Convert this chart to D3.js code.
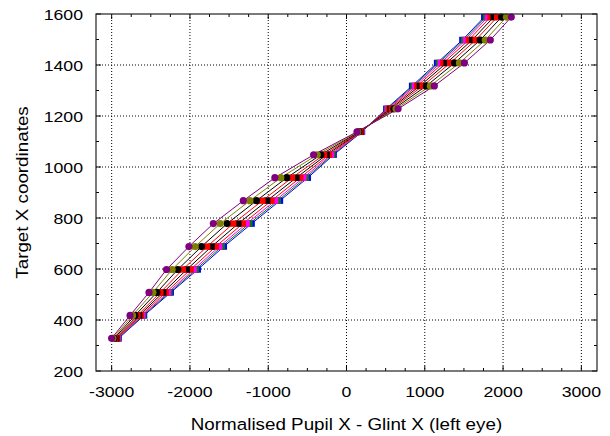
<!DOCTYPE html>
<html>
<head>
<meta charset="utf-8">
<script src="https://cdn.jsdelivr.net/npm/d3@7"></script>
<style>
  body { margin: 0; background: #fff; }
  text { font-family: "Liberation Sans", Arial, sans-serif; fill: #000; }
</style>
</head>
<body>
<svg id="chart" width="610" height="436"></svg>
<script>
// target levels (y) shared by every series
const targets = [328, 418, 508, 598, 688, 778, 868, 958, 1048, 1138, 1228, 1318, 1408, 1498, 1588];

// normalised pupil - glint x, one array per session
const purpleX  = [-3000, -2765, -2523, -2299, -2013, -1701, -1318, -915, -420, 134, 659, 1122, 1506, 1837, 2105];
const oliveX   = [-2984, -2733, -2473, -2227, -1933, -1613, -1234, -839, -374, 145, 632, 1071, 1443, 1773, 2043];
const blackAX  = [-2968, -2701, -2423, -2155, -1852, -1525, -1150, -763, -328, 157, 605, 1020, 1380, 1708, 1981];
const redAX    = [-2954, -2672, -2378, -2092, -1781, -1447, -1075, -696, -287, 167, 580, 974, 1325, 1651, 1926];
const blackBX  = [-2942, -2649, -2342, -2040, -1723, -1383, -1014, -641, -254, 176, 561, 937, 1279, 1605, 1881];
const redBX    = [-2931, -2627, -2309, -1992, -1670, -1324, -958, -591, -223, 183, 543, 903, 1237, 1562, 1839];
const magentaX = [-2923, -2609, -2281, -1952, -1625, -1276, -911, -549, -197, 190, 528, 875, 1202, 1526, 1805];
const greenX   = [-2917, -2597, -2262, -1924, -1594, -1241, -878, -519, -179, 194, 517, 855, 1178, 1501, 1781];
const blueX    = [-2911, -2586, -2245, -1900, -1567, -1212, -850, -494, -164, 198, 508, 838, 1157, 1480, 1760];

const xTicks = [-3000, -2000, -1000, 0, 1000, 2000, 3000];
const yTicks = [200, 400, 600, 800, 1000, 1200, 1400, 1600];

const series = [
  { xs: blueX,    color: '#0000ff', shape: 'square' },
  { xs: greenX,   color: '#008000', shape: 'square' },
  { xs: magentaX, color: '#ff00ff', shape: 'square' },
  { xs: redBX,    color: '#ff0000', shape: 'square' },
  { xs: blackBX,  color: '#000000', shape: 'square' },
  { xs: redAX,    color: '#ff0000', shape: 'square' },
  { xs: blackAX,  color: '#000000', shape: 'circle' },
  { xs: oliveX,   color: '#808000', shape: 'circle' },
  { xs: purpleX,  color: '#800080', shape: 'circle' }
];

const plotL = 96, plotR = 597, plotT = 14, plotB = 371;
const svg = d3.select('#chart');

const x = d3.scaleLinear().domain([-3200, 3200]).range([plotL, plotR]);
const y = d3.scaleLinear().domain([200, 1600]).range([plotB, plotT]);

// grid
svg.append('g').selectAll('line')
  .data(xTicks).join('line')
  .attr('x1', d => x(d)).attr('x2', d => x(d))
  .attr('y1', plotT).attr('y2', plotB)
  .attr('stroke', '#000').attr('stroke-width', 1)
  .attr('stroke-dasharray', '1,2');
svg.append('g').selectAll('line')
  .data(yTicks.slice(1, -1)).join('line')
  .attr('x1', plotL).attr('x2', plotR)
  .attr('y1', d => y(d)).attr('y2', d => y(d))
  .attr('stroke', '#000').attr('stroke-width', 1)
  .attr('stroke-dasharray', '1,2');

// ticks on all four sides, pointing in
const xMinor = d3.range(-3000, 3001, 250).filter(v => v % 1000 !== 0);
const yMinor = d3.range(300, 1600, 200);
const tickG = svg.append('g').attr('stroke', '#000').attr('stroke-width', 1);
function xt(vals, len) {
  vals.forEach(v => {
    tickG.append('line').attr('x1', x(v)).attr('x2', x(v)).attr('y1', plotB).attr('y2', plotB - len);
    tickG.append('line').attr('x1', x(v)).attr('x2', x(v)).attr('y1', plotT).attr('y2', plotT + len);
  });
}
function yt(vals, len) {
  vals.forEach(v => {
    tickG.append('line').attr('y1', y(v)).attr('y2', y(v)).attr('x1', plotL).attr('x2', plotL + len);
    tickG.append('line').attr('y1', y(v)).attr('y2', y(v)).attr('x1', plotR).attr('x2', plotR - len);
  });
}
xt(xTicks, 5); xt(xMinor, 3);
yt(yTicks, 5); yt(yMinor, 3);

// data lines
const line = d3.line().x(d => x(d[0])).y(d => y(d[1]));
series.forEach(s => {
  const pts = s.xs.map((v, i) => [v, targets[i]]);
  svg.append('path')
    .attr('d', line(pts))
    .attr('fill', 'none')
    .attr('stroke', s.color)
    .attr('stroke-width', 1);
});
series.forEach(s => {
  const pts = s.xs.map((v, i) => [v, targets[i]]);
  const g = svg.append('g').attr('fill', s.color);
  if (s.shape === 'circle') {
    g.selectAll('circle').data(pts).join('circle')
      .attr('cx', d => x(d[0])).attr('cy', d => y(d[1])).attr('r', 3.6);
  } else {
    g.selectAll('rect').data(pts).join('rect')
      .attr('x', d => x(d[0]) - 3.2).attr('y', d => y(d[1]) - 3.2)
      .attr('width', 6.4).attr('height', 6.4);
  }
});

// frame
svg.append('rect')
  .attr('x', plotL).attr('y', plotT)
  .attr('width', plotR - plotL).attr('height', plotB - plotT)
  .attr('fill', 'none').attr('stroke', '#222').attr('stroke-width', 1.2);

// tick labels (glyphs look a bit wide in the original)
const sx = 1.14;
svg.append('g').selectAll('text')
  .data(xTicks).join('text')
  .attr('transform', d => `translate(${x(d)},397) scale(${sx},1)`)
  .attr('text-anchor', 'middle')
  .attr('font-size', 15.5)
  .text(d => d);
svg.append('g').selectAll('text')
  .data(yTicks).join('text')
  .attr('transform', d => `translate(83,${y(d) + 5.5}) scale(${sx},1)`)
  .attr('text-anchor', 'end')
  .attr('font-size', 15.5)
  .text(d => d);

// axis titles
svg.append('text')
  .attr('transform', `translate(${x(0)},430) scale(${sx},1)`)
  .attr('text-anchor', 'middle')
  .attr('font-size', 16.5)
  .text('Normalised Pupil X - Glint X (left eye)');
svg.append('text')
  .attr('transform', `translate(28,${y(900)}) rotate(-90) scale(${sx},1)`)
  .attr('text-anchor', 'middle')
  .attr('font-size', 16.5)
  .text('Target X coordinates');
</script>
</body>
</html>
